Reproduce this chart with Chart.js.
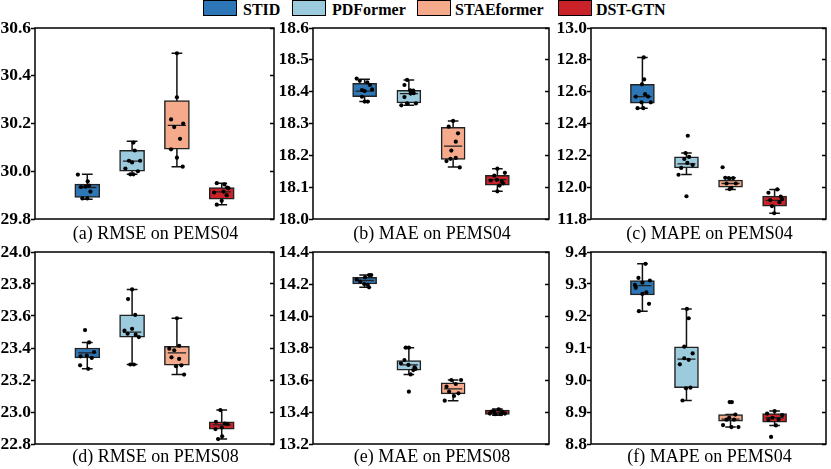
<!DOCTYPE html>
<html>
<head>
<meta charset="utf-8">
<script src="https://cdn.jsdelivr.net/npm/chart.js@4.4.1/dist/chart.umd.min.js"></script>
<style>
  body { margin: 0; background: #fff; width: 831px; height: 469px; overflow: hidden; position: relative;
         font-family: "Liberation Serif", "Times New Roman", serif; color: #000; }
  canvas { position: absolute; }
  .caption { position: absolute; font-size: 18px; line-height: 18px; text-align: center; white-space: nowrap; }
  .legend-box { position: absolute; top: 0; width: 32px; height: 14px; border: 1.5px solid #000; }
  .legend-text { position: absolute; top: 2px; font-size: 16px; line-height: 16px; font-weight: bold; white-space: nowrap; }
</style>
</head>
<body>
<div id="legend"></div>
<script>
"use strict";

const models = ['STID', 'PDFormer', 'STAEformer', 'DST-GTN'];
const colors = ['#2E77B6', '#9BCBDC', '#F5AB8B', '#C92228'];

const captions = ['(a) RMSE on PEMS04', '(b) MAE on PEMS04', '(c) MAPE on PEMS04',
                  '(d) RMSE on PEMS08', '(e) MAE on PEMS08', '(f) MAPE on PEMS04'];

// y range per panel: [min, max, step]
const yRanges = [[29.8, 30.6, 0.2], [18.0, 18.6, 0.1], [11.8, 13.0, 0.2],
                 [22.8, 24.0, 0.2], [13.2, 14.4, 0.2], [8.8, 9.4, 0.1]];

// box stats per model: [min, q1, median, q3, max]
const rmse04Stats = [[29.883, 29.890, 29.932, 29.946, 29.987], [29.987, 30.000, 30.042, 30.088, 30.126],
                     [30.019, 30.092, 30.192, 30.296, 30.494], [29.860, 29.883, 29.914, 29.932, 29.950]];
const mae04Stats = [[18.369, 18.384, 18.402, 18.426, 18.439], [18.357, 18.365, 18.394, 18.404, 18.437],
                    [18.163, 18.187, 18.229, 18.288, 18.308], [18.087, 18.106, 18.124, 18.137, 18.158]];
const mape04Stats = [[12.496, 12.527, 12.569, 12.646, 12.815], [12.079, 12.121, 12.146, 12.190, 12.214],
                     [11.986, 12.000, 12.023, 12.044, 12.059], [11.836, 11.881, 11.917, 11.944, 11.986]];
const rmse08Stats = [[23.270, 23.338, 23.369, 23.400, 23.435], [23.297, 23.468, 23.499, 23.607, 23.766],
                     [23.234, 23.292, 23.369, 23.410, 23.586], [22.831, 22.893, 22.920, 22.939, 23.012]];
const mae08Stats = [[14.179, 14.200, 14.222, 14.242, 14.256], [13.635, 13.662, 13.694, 13.721, 13.802],
                    [13.471, 13.513, 13.544, 13.583, 13.600], [13.380, 13.385, 13.398, 13.412, 13.418]];
const mape04bStats = [[9.215, 9.266, 9.295, 9.311, 9.363], [8.936, 8.976, 9.065, 9.104, 9.222],
                      [8.853, 8.871, 8.878, 8.892, 8.892], [8.858, 8.868, 8.882, 8.895, 8.903]];

// individual runs per model
const rmse04Points = [
  [29.986, 29.934, 29.958, 29.915, 29.936, 29.886, 29.886, 29.940],
  [30.120, 30.087, 30.044, 30.037, 30.044, 30.011, 30.000, 29.987, 29.987],
  [30.494, 30.310, 30.217, 30.185, 30.200, 30.136, 30.092, 30.057, 30.019],
  [29.950, 29.929, 29.911, 29.915, 29.900, 29.876, 29.860, 29.932, 29.945]];
const rmse04Jitter = [
  [-0.21, -0.14, 0.01, 0.07, -0.04, -0.11, 0.00, 0.04],
  [0.03, 0.06, -0.07, 0.00, 0.18, -0.15, 0.13, 0.03, -0.04],
  [0.00, 0.00, -0.13, -0.06, 0.14, 0.07, -0.13, 0.00, 0.13],
  [-0.11, 0.15, -0.17, 0.04, 0.11, 0.00, -0.11, 0.12, 0.06]];

const mae04Points = [
  [18.441, 18.434, 18.429, 18.421, 18.405, 18.402, 18.407, 18.384, 18.369, 18.369],
  [18.437, 18.421, 18.404, 18.403, 18.394, 18.395, 18.383, 18.357, 18.363, 18.363],
  [18.308, 18.290, 18.269, 18.243, 18.215, 18.182, 18.189, 18.192, 18.162],
  [18.158, 18.145, 18.136, 18.123, 18.121, 18.118, 18.105, 18.112, 18.087]];
const mae04Jitter = [
  [-0.18, -0.11, 0.06, 0.12, -0.06, 0.00, 0.17, -0.06, 0.00, 0.07],
  [-0.04, -0.10, 0.03, 0.10, 0.04, 0.11, -0.10, -0.17, -0.04, 0.16],
  [0.00, -0.10, 0.11, 0.06, -0.04, -0.15, -0.06, 0.06, 0.15],
  [0.00, 0.17, -0.07, -0.01, -0.15, 0.10, 0.05, 0.13, 0.00]];

const mape04Points = [
  [12.815, 12.677, 12.646, 12.569, 12.584, 12.569, 12.533, 12.533, 12.496, 12.496],
  [12.323, 12.214, 12.177, 12.190, 12.152, 12.140, 12.121, 12.078, 11.943],
  [12.125, 12.059, 12.057, 12.057, 12.023, 12.023, 11.996, 11.988],
  [11.986, 11.965, 11.919, 11.940, 11.906, 11.881, 11.836, 11.925]];
const mape04Jitter = [
  [0.03, 0.04, -0.01, -0.15, 0.06, 0.13, -0.02, 0.19, -0.11, 0.02],
  [0.03, -0.02, -0.05, 0.06, 0.02, 0.14, -0.12, -0.18, 0.00],
  [-0.18, -0.12, -0.04, 0.06, -0.09, 0.12, 0.02, -0.02],
  [0.06, -0.14, -0.10, 0.14, 0.11, -0.06, -0.01, 0.17]];

const rmse08Points = [
  [23.512, 23.435, 23.375, 23.348, 23.352, 23.338, 23.292, 23.270],
  [23.766, 23.706, 23.607, 23.520, 23.508, 23.489, 23.483, 23.468, 23.297, 23.297],
  [23.586, 23.396, 23.386, 23.414, 23.342, 23.332, 23.286, 23.292, 23.234],
  [23.012, 22.928, 22.893, 22.903, 22.925, 22.848, 22.831, 22.939]];
const rmse08Jitter = [
  [-0.05, 0.04, 0.15, -0.15, -0.01, 0.10, -0.16, 0.02],
  [0.00, -0.09, 0.07, 0.00, -0.17, -0.10, 0.08, 0.15, -0.04, 0.04],
  [0.00, -0.17, -0.06, 0.05, -0.12, 0.05, -0.02, 0.10, 0.16],
  [-0.03, 0.07, -0.14, 0.00, 0.13, 0.01, -0.08, -0.13]];

const mae08Points = [
  [14.256, 14.256, 14.242, 14.215, 14.200, 14.179, 14.228, 14.194],
  [13.802, 13.802, 13.725, 13.704, 13.694, 13.679, 13.662, 13.669, 13.635, 13.527],
  [13.600, 13.575, 13.600, 13.558, 13.527, 13.500, 13.517, 13.471],
  [13.390, 13.405, 13.417, 13.402, 13.390, 13.386, 13.386, 13.402]];
const mae08Jitter = [
  [0.10, 0.15, 0.01, -0.10, -0.01, 0.10, -0.18, 0.07],
  [-0.07, 0.00, -0.10, -0.18, -0.01, 0.13, 0.10, 0.15, 0.04, 0.00],
  [-0.04, 0.06, 0.18, -0.15, -0.09, 0.02, 0.12, -0.19],
  [-0.17, -0.08, 0.03, 0.11, 0.17, -0.05, 0.08, -0.13]];

const mape04bPoints = [
  [9.363, 9.319, 9.304, 9.311, 9.297, 9.288, 9.269, 9.274, 9.238, 9.215],
  [9.222, 9.193, 9.104, 9.083, 9.049, 9.068, 9.063, 8.976, 8.974, 8.936],
  [8.931, 8.931, 8.892, 8.859, 8.853, 8.853, 8.876, 8.876, 8.882],
  [8.903, 8.895, 8.890, 8.882, 8.877, 8.858, 8.822, 8.875]];
const mape04bJitter = [
  [0.07, -0.09, 0.00, 0.17, -0.17, -0.15, 0.00, 0.09, 0.15, -0.08],
  [0.01, 0.05, -0.05, 0.14, -0.15, -0.05, 0.05, 0.09, -0.01, -0.09],
  [-0.02, 0.03, 0.11, -0.17, 0.02, 0.18, -0.09, 0.08, -0.03],
  [0.00, -0.17, 0.17, -0.05, 0.09, 0.03, -0.08, -0.14]];

const allStats = [rmse04Stats, mae04Stats, mape04Stats, rmse08Stats, mae08Stats, mape04bStats];
const allPoints = [rmse04Points, mae04Points, mape04Points, rmse08Points, mae08Points, mape04bPoints];
const allJitter = [rmse04Jitter, mae04Jitter, mape04Jitter, rmse08Jitter, mae08Jitter, mape04bJitter];

// plot area of each panel (pixels)
const plots = [
  {left: 35, top: 28, width: 241, height: 191},
  {left: 313, top: 28, width: 238, height: 191},
  {left: 591, top: 28, width: 237, height: 191},
  {left: 35, top: 252, width: 241, height: 192},
  {left: 313, top: 252, width: 238, height: 192},
  {left: 591, top: 252, width: 237, height: 192}
];
const captionTops = [224, 224, 224, 447, 447, 447];

const AXIS_W = 35, PAD = 14;
const BOX_FRAC = 0.41, CAP = 0.12;
const FONT = "'Liberation Serif', 'Times New Roman', serif";

// legend
const legendBoxX = [203, 292, 417, 558];
const legendTextX = [243, 332, 455, 596];
const legend = document.getElementById('legend');
models.forEach((m, i) => {
    const box = document.createElement('div');
    box.className = 'legend-box';
    box.style.left = legendBoxX[i] + 'px';
    box.style.background = colors[i];
    legend.appendChild(box);
    const txt = document.createElement('div');
    txt.className = 'legend-text';
    txt.style.left = legendTextX[i] + 'px';
    txt.textContent = m;
    legend.appendChild(txt);
});

// frame around the plot area
const framePlugin = {
    id: 'frame',
    afterDatasetsDraw(chart) {
        const {ctx, chartArea: a} = chart;
        ctx.save();
        ctx.strokeStyle = '#000';
        ctx.lineWidth = 1.5;
        ctx.strokeRect(a.left, a.top, a.right - a.left, a.bottom - a.top);
        ctx.restore();
    }
};

function whiskerData(stats) {
    const out = [];
    stats.forEach((s, i) => {
        out.push({x: i, y: s[0]}, {x: i, y: s[4]}, {x: i, y: null});
        out.push({x: i - CAP, y: s[4]}, {x: i + CAP, y: s[4]}, {x: i, y: null});
        out.push({x: i - CAP, y: s[0]}, {x: i + CAP, y: s[0]}, {x: i, y: null});
    });
    return out;
}

function medianData(stats) {
    const out = [];
    stats.forEach((s, i) => {
        out.push({x: i - BOX_FRAC / 2, y: s[2]}, {x: i + BOX_FRAC / 2, y: s[2]}, {x: i, y: null});
    });
    return out;
}

function pointData(points, jitter) {
    const out = [];
    points.forEach((vals, i) => {
        vals.forEach((v, k) => out.push({x: i + jitter[i][k], y: v}));
    });
    return out;
}

allStats.forEach((stats, p) => {
    const plot = plots[p];
    const [ymin, ymax, step] = yRanges[p];

    const canvas = document.createElement('canvas');
    canvas.width = plot.width + AXIS_W + 2;
    canvas.height = plot.height + PAD * 2;
    canvas.style.left = (plot.left - AXIS_W) + 'px';
    canvas.style.top = (plot.top - PAD) + 'px';
    document.body.appendChild(canvas);

    const cap = document.createElement('div');
    cap.className = 'caption';
    cap.style.left = plot.left + 'px';
    cap.style.width = plot.width + 'px';
    cap.style.top = captionTops[p] + 'px';
    cap.textContent = captions[p];
    document.body.appendChild(cap);

    new Chart(canvas.getContext('2d'), {
        type: 'bar',
        data: {
            datasets: [
                {
                    type: 'line', order: 4,
                    data: whiskerData(stats),
                    borderColor: '#111', borderWidth: 1.5,
                    pointRadius: 0, spanGaps: false, fill: false
                },
                {
                    type: 'bar', order: 3,
                    data: stats.map((s, i) => ({x: i, y: [s[1], s[3]]})),
                    backgroundColor: colors,
                    borderColor: '#222', borderWidth: 1.5, borderSkipped: false,
                    barThickness: Math.round(plot.width / 4 * BOX_FRAC)
                },
                {
                    type: 'line', order: 2,
                    data: medianData(stats),
                    borderColor: '#222', borderWidth: 1.3,
                    pointRadius: 0, spanGaps: false, fill: false
                },
                {
                    type: 'scatter', order: 1,
                    data: pointData(allPoints[p], allJitter[p]),
                    backgroundColor: '#000', borderWidth: 0, pointRadius: 2.1
                }
            ]
        },
        options: {
            responsive: false,
            animation: false,
            events: [],
            layout: {padding: {top: PAD, bottom: PAD, left: 0, right: 0}},
            plugins: {legend: {display: false}, tooltip: {enabled: false}},
            scales: {
                x: {type: 'linear', min: -0.5, max: 3.5, display: false},
                y: {
                    position: 'left', min: ymin, max: ymax,
                    afterFit: s => { s.width = AXIS_W; },
                    border: {display: false},
                    grid: {drawOnChartArea: false, tickLength: 4, tickColor: '#000', tickWidth: 1.5},
                    ticks: {
                        stepSize: step, padding: 0, color: '#000',
                        font: {family: FONT, size: 17.5, weight: 'bold'},
                        callback: v => Number(v).toFixed(1)
                    }
                },
                y2: {
                    position: 'right', min: ymin, max: ymax,
                    afterFit: s => { s.width = 2; },
                    border: {display: false},
                    grid: {drawOnChartArea: false, tickLength: -4, tickColor: '#000', tickWidth: 1.5},
                    ticks: {stepSize: step, display: false}
                }
            }
        },
        plugins: [framePlugin]
    });
});
</script>
</body>
</html>
